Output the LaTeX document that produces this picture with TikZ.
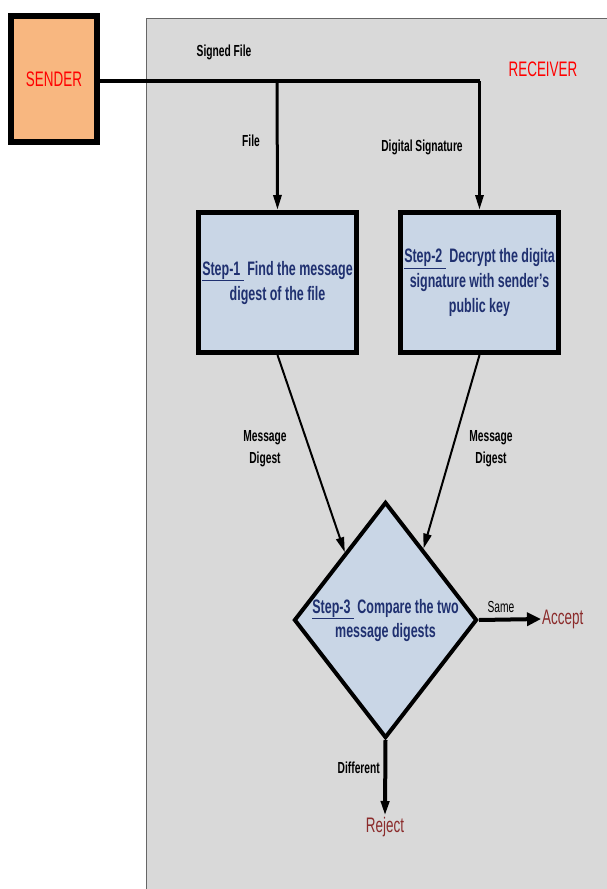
\documentclass[tikz,border=0pt]{standalone}
\usepackage{fontspec}
\setmainfont[FakeStretch=0.64]{Liberation Sans}
\usetikzlibrary{shapes.geometric,arrows.meta}
\definecolor{panelgray}{HTML}{D9D9D9}
\definecolor{senderfill}{HTML}{F8B780}
\definecolor{stepfill}{HTML}{C9D6E6}
\definecolor{steptext}{HTML}{1F3070}
\definecolor{verdict}{HTML}{8B2B2B}
\newcommand{\steplabel}[1]{\underline{Step-#1\ }\ }

\begin{document}
\begin{tikzpicture}[x=1pt,y=-1pt,
  stepbox/.style={draw,line width=5pt,fill=stepfill,text=steptext,align=center,
    font=\fontsize{19.5}{25}\selectfont\bfseries,minimum height=140pt},
  flowlabel/.style={font=\fontsize{16}{22}\selectfont\bfseries,align=center,inner sep=0pt},
  verdictlabel/.style={text=verdict,font=\fontsize{21}{22}\selectfont,inner sep=1pt},
  tip/.style={-{Triangle[length=15pt,width=8pt]}},
  widetip/.style={-{Triangle[length=14pt,width=13pt]}}]
  \useasboundingbox (0,0) rectangle (606,889);
  \fill[white] (0,0) rectangle (606,889);
  \draw[fill=panelgray,draw=black!60,line width=0.8pt] (146,18) rectangle (620,900);
  \node[draw,line width=6pt,fill=senderfill,minimum width=86pt,minimum height=126pt,
    text=red,font=\fontsize{21}{22}\selectfont] (sender) at (54,79) {SENDER};
  \node[text=red,font=\fontsize{21}{22}\selectfont] (receiver) at (543,69) {RECEIVER};
  \node[flowlabel] (signed) at (224,52) {Signed File};
  \node[stepbox,minimum width=156pt] (step1) at (277.5,282.5)
    {\steplabel{1}Find the message\\digest of the file};
  \node[stepbox,minimum width=158pt] (step2) at (479.5,282.5)
    {\steplabel{2}Decrypt the digita\\signature with sender's\\public key};
  \node[diamond,draw,line width=4pt,fill=stepfill,minimum width=183pt,minimum height=236pt,
    inner sep=0pt] (step3) at (385.5,620) {};
  \node[text=steptext,align=center,font=\fontsize{19.5}{24}\selectfont\bfseries] (step3text)
    at (step3.center) {\steplabel{3}Compare the two\\message digests};
  \node[verdictlabel,anchor=west] (accept) at (541,619) {Accept};
  \node[verdictlabel,anchor=north] (reject) at (385,816) {Reject};
  \coordinate (fork) at (277,81);
  \coordinate (corner) at (479.5,81);
  \draw[line width=4pt] (sender.east |- fork) -- (corner);
  \draw[line width=3pt,tip] (fork) -- (step1.north);
  \draw[line width=3pt,tip] (corner) -- (step2.north);
  \node[flowlabel] (file) at (251,141) {File};
  \node[flowlabel] (signature) at (422,147) {Digital Signature};
  \draw[line width=2pt,tip] (step1.south) -- (step3.121);
  \draw[line width=2pt,tip] (step2.south) -- (step3.62);
  \node[flowlabel] (digest1) at (265,449) {Message\\Digest};
  \node[flowlabel] (digest2) at (491,449) {Message\\Digest};
  \draw[line width=4pt,widetip] (step3.east) -- (accept.west);
  \node[flowlabel,font=\fontsize{16}{18}\selectfont] (same) at (501,607) {Same};
  \draw[line width=4pt,tip] (step3.south) -- (reject.north);
  \node[flowlabel,anchor=east] (different) at (380,768) {Different};
\end{tikzpicture}
\end{document}
